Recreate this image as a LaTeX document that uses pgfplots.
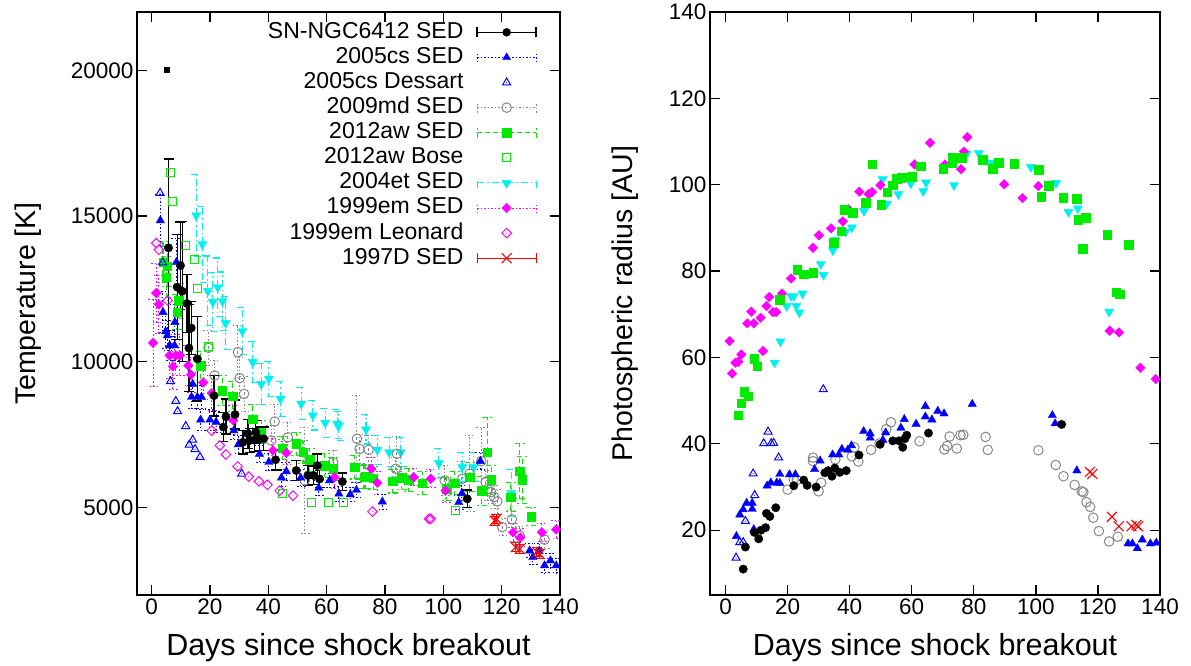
\documentclass[border=0pt]{standalone}
\usepackage{fontspec}
\setmainfont{Liberation Sans}
\usepackage{pgfplots}
\pgfplotsset{compat=1.18}
\definecolor{cgray}{RGB}{135,135,135}
\definecolor{cgreen}{RGB}{0,235,0}
\definecolor{cblue}{RGB}{0,0,255}
\definecolor{ccyan}{RGB}{0,240,240}
\definecolor{cmag}{RGB}{255,0,255}
\definecolor{cred}{RGB}{255,0,0}

\pgfdeclareplotmark{odot}{%
  \pgfpathcircle{\pgfpointorigin}{\pgfplotmarksize}\pgfusepathqstroke
  \pgfpathcircle{\pgfpointorigin}{0.5pt}\pgfusepathqfill}
\pgfdeclareplotmark{sqdot}{%
  \pgfpathmoveto{\pgfqpoint{-\pgfplotmarksize}{-\pgfplotmarksize}}%
  \pgfpathlineto{\pgfqpoint{\pgfplotmarksize}{-\pgfplotmarksize}}%
  \pgfpathlineto{\pgfqpoint{\pgfplotmarksize}{\pgfplotmarksize}}%
  \pgfpathlineto{\pgfqpoint{-\pgfplotmarksize}{\pgfplotmarksize}}%
  \pgfpathclose\pgfusepathqstroke
  \pgfpathcircle{\pgfpointorigin}{0.5pt}\pgfusepathqfill}
\pgfdeclareplotmark{tridot}{%
  \pgfpathmoveto{\pgfqpointpolar{90}{1.1\pgfplotmarksize}}%
  \pgfpathlineto{\pgfqpointpolar{210}{1.1\pgfplotmarksize}}%
  \pgfpathlineto{\pgfqpointpolar{-30}{1.1\pgfplotmarksize}}%
  \pgfpathclose\pgfusepathqstroke
  \pgfpathcircle{\pgfpointorigin}{0.6pt}\pgfusepathqfill}
\pgfdeclareplotmark{dtri*}{%
  \pgfpathmoveto{\pgfqpointpolar{-90}{1.1\pgfplotmarksize}}%
  \pgfpathlineto{\pgfqpointpolar{30}{1.1\pgfplotmarksize}}%
  \pgfpathlineto{\pgfqpointpolar{150}{1.1\pgfplotmarksize}}%
  \pgfpathclose\pgfusepathqfillstroke}
\pgfdeclareplotmark{dmd*}{%
  \pgfpathmoveto{\pgfqpoint{0pt}{\pgfplotmarksize}}%
  \pgfpathlineto{\pgfqpoint{\pgfplotmarksize}{0pt}}%
  \pgfpathlineto{\pgfqpoint{0pt}{-\pgfplotmarksize}}%
  \pgfpathlineto{\pgfqpoint{-\pgfplotmarksize}{0pt}}%
  \pgfpathclose\pgfusepathqfillstroke}
\pgfdeclareplotmark{dmdot}{%
  \pgfpathmoveto{\pgfqpoint{0pt}{\pgfplotmarksize}}%
  \pgfpathlineto{\pgfqpoint{\pgfplotmarksize}{0pt}}%
  \pgfpathlineto{\pgfqpoint{0pt}{-\pgfplotmarksize}}%
  \pgfpathlineto{\pgfqpoint{-\pgfplotmarksize}{0pt}}%
  \pgfpathclose\pgfusepathqstroke
  \pgfpathcircle{\pgfpointorigin}{0.5pt}\pgfusepathqfill}

\pgfplotsset{
  every axis/.append style={scale only axis,
    axis line style={line width=1.3pt},
    tick style={line width=1.3pt, black},
    tick align=inside, major tick length=10pt,
    ticklabel style={font=\fontsize{22.5}{22.5}\selectfont},
    xlabel style={font=\fontsize{30.5}{30.5}\selectfont},
    ylabel style={font=\fontsize{28.5}{28.5}\selectfont},
    scaled ticks=false,
    /pgf/number format/assume math mode=true,
    /pgf/number format/1000 sep={},
  },
  sBlack/.style={only marks, mark=*, mark size=4.2pt, black},
  sBlue/.style={only marks, mark=triangle*, mark size=4.8pt, cblue},
  sDes/.style={only marks, mark=tridot, mark size=4.2pt, cblue, mark options={line width=1pt}},
  sGray/.style={only marks, mark=odot, mark size=4.8pt, cgray, mark options={line width=1pt}},
  sGreen/.style={only marks, mark=square*, mark size=4.2pt, cgreen},
  sBose/.style={only marks, mark=sqdot, mark size=4pt, cgreen, mark options={line width=1pt}},
  sCyan/.style={only marks, mark=dtri*, mark size=4.8pt, ccyan},
  sMag/.style={only marks, mark=dmd*, mark size=4.8pt, cmag},
  sLeo/.style={only marks, mark=dmdot, mark size=4.8pt, cmag, mark options={line width=1pt}},
  sRed/.style={only marks, mark=x, mark size=7pt, cred, mark options={line width=1.1pt}},
  ebar/.style={error bars/.cd, y dir=both, y explicit,
     error bar style={#1}, error mark options={rotate=90, mark size=5pt, #1}},
}

\begin{document}
\begin{tikzpicture}
\useasboundingbox (0pt,0pt) rectangle (1191pt,666pt);
% ================= LEFT PANEL =================
\begin{axis}[at={(137pt,71pt)}, anchor=south west, width=423pt, height=583pt,
  xmin=-5, xmax=140, ymin=2000, ymax=22000,
  xtick={0,20,...,140}, ytick={5000,10000,15000,20000},
  xlabel={Days since shock breakout}, ylabel={Temperature [K]},
  xlabel style={at={(axis description cs:0.5,-0.09)}, anchor=center},
  ylabel style={at={(axis description cs:-0.258,0.5)}, anchor=center},
  legend plot pos=right,
  legend cell align=right,
  legend style={at={(0.9456,0.987)}, anchor=north east, draw=none, fill=none,
     inner sep=0pt, font=\fontsize{23}{23}\selectfont, column sep=12pt, row sep=0pt,
     nodes={inner sep=1pt, text height=17.5pt, text depth=5.6pt}},
]
% 2004et SED
\addplot[sCyan, forget plot, ebar={ccyan, line width=1.1pt, dash pattern=on 7pt off 3pt on 1.5pt off 3pt}] table[y error index=2] {
15.3 15020 1400
17.4 14030 1300
19.3 12430 1200
21.0 12050 1000
22.7 12560 1000
24.3 12080 1000
25.4 11330 900
31.1 11050 800
34.7 9990 700
37.6 9240 700
40.2 9420 600
44.2 8730 600
51.3 8560 550
55.3 8160 500
59.5 7910 500
63.6 7870 500
64.2 7810 500
73.5 7680 500
77.4 6980 500
81.4 6900 500
85.4 6900 500
98.5 6520 500
106.5 6380 500
110.4 6380 500
123.3 5490 800
};
% 2009md SED
\addplot[sGray, forget plot, ebar={cgray, line width=1pt, dash pattern=on 1.5pt off 2pt}] table[y error index=2] {
19.5 10480 600
21.6 9530 500
29.6 10330 900
30.2 9440 700
31.7 8900 600
41.0 7300 500
42.2 7950 600
46.7 7410 500
52.5 5930 1830
62.2 6560 400
70.4 7360 1500
71.3 7010 500
74.4 6980 500
83.7 6330 400
84.1 6840 600
100.5 5930 500
106.4 5980 600
109.0 6160 1300
113.0 6590 1170
114.5 5870 400
115.3 5640 400
116.4 5530 400
117.4 5360 400
118.5 5210 400
120.2 4330 300
123.5 4600 300
126.2 4040 300
134.7 3900 300
};
% 2012aw SED
\addplot[sGreen, forget plot, ebar={cgreen, line width=1.1pt, dash pattern=on 5pt off 3pt}] table[y error index=2] {
3.9 13420 700
5.0 12905 700
5.4 13270 700
8.7 11700 600
9.3 12100 600
16.8 9860 500
24.3 9015 500
27.8 8810 500
34.7 8040 500
37.6 7590 400
44.8 7040 400
49.6 7185 400
51.9 6900 400
54.2 6640 400
59.3 6440 400
62.2 6330 400
69.6 6380 400
72.8 6040 400
73.4 6060 400
76.0 6010 400
82.7 5900 400
85.8 6020 400
88.2 5950 400
92.8 5835 400
101.2 5640 400
103.9 5835 400
109.0 6040 500
113.1 5580 500
115.1 6900 1200
116.4 5950 500
123.1 5355 500
126.2 6250 950
127.1 5950 800
130.2 4690 300
};
% 1999em SED
\addplot[sMag, forget plot, ebar={cmag, line width=1pt, dash pattern=on 1.5pt off 2pt}] table[y error index=2] {
0.5 10650 1500
1.6 12360 1000
2.5 11970 1000
6.2 10220 800
7.3 9840 800
8.3 10220 700
9.7 10220 700
12.6 9870 700
13.5 9560 600
17.7 9290 600
20.6 8920 600
28.0 7990 500
41.6 6960 400
46.2 6870 400
62.7 6040 400
75.3 6330 400
77.4 5850 400
89.9 6040 300
95.7 5990 300
100.8 5580 400
123.9 4150 300
126.4 3970 300
133.8 4150 300
138.7 4250 300
};
% 2005cs SED
\addplot[sBlue, forget plot, ebar={cblue, line width=1pt, dash pattern=on 1.5pt off 2pt}] table[y error index=2] {
3.0 14850 900
3.9 11700 700
4.8 11040 600
5.4 10900 500
6.2 10560 500
7.9 10560 500
8.0 11360 600
8.5 13420 800
14.1 9240 400
13.7 8790 400
15.7 8790 400
17.1 8790 400
16.8 8010 350
20.0 8010 350
22.1 7930 350
28.2 7640 300
29.7 7160 300
37.0 6840 300
40.2 6560 300
44.5 6020 300
46.2 6240 300
51.1 6020 300
57.3 5675 250
61.0 5930 250
64.2 5470 250
68.1 5450 250
70.2 5600 250
79.1 5200 250
105.3 5180 250
106.4 5490 250
112.7 6590 300
129.6 3520 250
130.7 3300 250
132.8 3500 250
134.7 3010 250
136.7 3180 250
138.7 3010 250
};
% 2005cs Dessart
\addplot[sDes, forget plot] table {
2.9 15790
3.8 13400
6.5 9330
8.3 8650
8.9 8300
11.7 7790
14.1 7320
12.9 7150
14.9 7000
16.6 6730
30.9 6160
};
% 2012aw Bose
\addplot[sBose, forget plot] table {
6.5 16510
7.3 15510
11.7 13990
14.7 13500
15.7 12505
19.5 10525
44.8 5490
54.7 5180
60.5 5180
65.8 5180
104.1 4900
};
% 1999em Leonard
\addplot[sLeo, forget plot] table {
1.6 14070
2.5 13840
5.5 12100
20.6 7640
23.4 7130
25.5 6820
29.5 6410
33.3 6060
36.8 5900
39.7 5780
43.9 5580
48.5 5410
75.7 4860
95.1 4610
95.7 4610
};
% 1997D SED
\addplot[sRed, forget plot, ebar={cred, line width=1pt}] table[y error index=2] {
117.6 4550 150
118.2 4610 150
124.8 3640 150
126.2 3580 150
132.1 3470 150
133.0 3410 150
};
% SN-NGC6412 SED
\addplot[sBlack, forget plot, ebar={black, line width=1.3pt}] table[y error index=2] {
5.8 13910 3050
8.8 12560 1800
9.9 13300 1500
10.5 12420 2400
12.1 12000 1000
12.8 10470 1500
13.6 11160 900
15.7 10100 1450
21.4 8840 700
24.6 7760 500
25.5 8120 600
28.6 8190 500
31.3 7240 400
33.0 7530 500
33.6 7300 400
35.3 7320 400
35.7 7590 400
37.0 7360 400
38.4 7360 400
42.5 6640 350
49.6 6270 350
53.6 6100 350
55.5 6100 300
56.8 6440 400
57.6 5980 300
65.4 5890 300
108.2 5300 300
};
\addplot[only marks, mark=square*, mark size=2.5pt, black, forget plot] coordinates {(5.1,20030)};
% ---------- legend ----------
\addlegendimage{legend image code/.code={
  \path[draw=none, fill=none] (0pt,-6pt) rectangle (59pt,6pt);
  \draw[black, line width=1.3pt] (0pt,0pt)--(59pt,0pt) (0pt,-5pt)--(0pt,5pt) (59pt,-5pt)--(59pt,5pt);
  \draw[black, mark=*, mark size=4pt] plot coordinates {(29.5pt,0pt)};}}
\addlegendentry{SN-NGC6412 SED}
\addlegendimage{legend image code/.code={
  \path[draw=none, fill=none] (0pt,-6pt) rectangle (59pt,6pt);
  \draw[cblue, line width=1pt, dash pattern=on 1.5pt off 2pt] (0pt,0pt)--(59pt,0pt) (0pt,-5pt)--(0pt,5pt) (59pt,-5pt)--(59pt,5pt);
  \draw[cblue, fill=cblue, mark=triangle*, mark size=4.6pt] plot coordinates {(29.5pt,0pt)};}}
\addlegendentry{2005cs SED}
\addlegendimage{legend image code/.code={
  \path[draw=none, fill=none] (0pt,-6pt) rectangle (59pt,6pt);
  \draw[cblue, mark=tridot, mark size=4.2pt, mark options={line width=1pt}] plot coordinates {(29.5pt,0pt)};}}
\addlegendentry{2005cs Dessart}
\addlegendimage{legend image code/.code={
  \path[draw=none, fill=none] (0pt,-6pt) rectangle (59pt,6pt);
  \draw[cgray, line width=1pt, dash pattern=on 1.5pt off 2pt] (0pt,0pt)--(59pt,0pt) (0pt,-5pt)--(0pt,5pt) (59pt,-5pt)--(59pt,5pt);
  \draw[cgray, fill=white, mark=odot, mark size=4.8pt, mark options={line width=1pt}] plot coordinates {(29.5pt,0pt)};}}
\addlegendentry{2009md SED}
\addlegendimage{legend image code/.code={
  \path[draw=none, fill=none] (0pt,-6pt) rectangle (59pt,6pt);
  \draw[cgreen, line width=1.1pt, dash pattern=on 5pt off 3pt] (0pt,0pt)--(59pt,0pt) (0pt,-5pt)--(0pt,5pt) (59pt,-5pt)--(59pt,5pt);
  \draw[cgreen, fill=cgreen, mark=square*, mark size=4.2pt] plot coordinates {(29.5pt,0pt)};}}
\addlegendentry{2012aw SED}
\addlegendimage{legend image code/.code={
  \path[draw=none, fill=none] (0pt,-6pt) rectangle (59pt,6pt);
  \draw[cgreen, mark=sqdot, mark size=4pt, mark options={line width=1pt}] plot coordinates {(29.5pt,0pt)};}}
\addlegendentry{2012aw Bose}
\addlegendimage{legend image code/.code={
  \path[draw=none, fill=none] (0pt,-6pt) rectangle (59pt,6pt);
  \draw[ccyan, line width=1.1pt, dash pattern=on 7pt off 3pt on 1.5pt off 3pt] (0pt,0pt)--(59pt,0pt) (0pt,-5pt)--(0pt,5pt) (59pt,-5pt)--(59pt,5pt);
  \draw[ccyan, fill=ccyan, mark=dtri*, mark size=4.8pt] plot coordinates {(29.5pt,0pt)};}}
\addlegendentry{2004et SED}
\addlegendimage{legend image code/.code={
  \path[draw=none, fill=none] (0pt,-6pt) rectangle (59pt,6pt);
  \draw[cmag, line width=1pt, dash pattern=on 1.5pt off 2pt] (0pt,0pt)--(59pt,0pt) (0pt,-5pt)--(0pt,5pt) (59pt,-5pt)--(59pt,5pt);
  \draw[cmag, fill=cmag, mark=dmd*, mark size=4.8pt] plot coordinates {(29.5pt,0pt)};}}
\addlegendentry{1999em SED}
\addlegendimage{legend image code/.code={
  \path[draw=none, fill=none] (0pt,-6pt) rectangle (59pt,6pt);
  \draw[cmag, mark=dmdot, mark size=4.8pt, mark options={line width=1pt}] plot coordinates {(29.5pt,0pt)};}}
\addlegendentry{1999em Leonard}
\addlegendimage{legend image code/.code={
  \path[draw=none, fill=none] (0pt,-6pt) rectangle (59pt,6pt);
  \draw[cred, line width=1pt] (0pt,0pt)--(59pt,0pt) (0pt,-5pt)--(0pt,5pt) (59pt,-5pt)--(59pt,5pt);
  \draw[cred, mark=x, mark size=7pt, mark options={line width=1.1pt}] plot coordinates {(29.5pt,0pt)};}}
\addlegendentry{1997D SED}
\end{axis}

% ================= RIGHT PANEL =================
\begin{axis}[at={(710pt,71pt)}, anchor=south west, width=450pt, height=583pt,
  xmin=-5, xmax=140, ymin=5, ymax=140,
  xtick={0,20,...,140}, ytick={20,40,...,140},
  xlabel={Days since shock breakout}, ylabel={Photospheric radius [AU]},
  xlabel style={at={(axis description cs:0.5,-0.09)}, anchor=center},
  ylabel style={at={(axis description cs:-0.189,0.5)}, anchor=center},
]
% 2004et
\addplot[sCyan] table {
15.8 58.8
17.7 63.7
19.7 71.9
21.1 74.2
22.0 74.2
22.8 71.9
23.8 70.4
24.8 74.8
26.0 79.3
30.7 81.6
31.6 79.1
34.6 84.8
35.5 87.2
37.8 91.4
38.7 89.1
40.7 90.1
44.6 93.9
50.6 101.3
52.0 95.6
55.7 97.8
59.7 100.3
63.7 98.5
64.6 100.5
73.6 99.9
77.7 107.2
81.6 107.3
85.7 105.1
98.4 104.1
106.5 100.4
110.5 93.7
113.5 94.5
123.6 70.6
};
% 1999em
\addplot[sMag] table {
1.3 63.8
2.1 56.3
3.2 58.8
4.1 59.0
5.1 60.7
7.0 67.9
8.3 70.6
9.1 67.9
11.3 69.2
12.1 61.5
13.2 71.9
14.1 74.0
15.3 70.5
16.3 70.5
18.2 74.8
21.1 78.3
28.2 85.4
30.1 88.3
34.0 89.9
37.8 91.5
39.6 94.3
43.1 98.4
46.1 97.8
47.2 98.3
49.9 99.9
60.9 104.7
65.9 109.7
70.7 104.7
75.9 103.6
76.8 107.7
77.9 111.0
89.8 100.1
95.7 96.9
100.8 99.7
123.8 66.2
126.8 65.8
133.7 57.6
138.6 55.0
};
% 2012aw
\addplot[sGreen] table {
4.1 46.6
5.0 49.4
6.0 52.1
7.4 51.1
9.3 59.7
10.3 58.0
17.4 73.4
23.0 80.3
25.2 79.3
28.3 79.6
34.9 86.6
37.3 89.3
38.2 94.2
41.0 93.5
45.2 95.8
47.2 104.8
50.2 95.4
52.1 98.3
53.9 99.9
55.2 101.4
56.7 101.6
58.4 101.7
60.1 101.9
62.9 104.3
70.1 103.7
73.0 105.1
73.1 106.4
74.5 106.2
76.3 106.3
82.9 105.8
86.1 103.7
88.0 105.1
93.1 104.9
100.9 103.5
101.8 97.2
104.1 99.8
108.9 97.0
113.1 96.8
113.7 91.9
115.1 85.2
116.0 92.4
123.0 88.4
125.9 75.1
127.0 74.6
129.9 86.1
};
% 2009md
\addplot[sGray] table {
20.0 29.4
22.0 31.7
23.0 31.6
28.2 36.8
28.2 36.0
30.0 29.0
30.8 31.0
35.4 36.4
40.7 37.1
41.5 39.2
42.8 35.9
46.9 38.6
49.6 40.1
51.8 43.4
53.3 45.0
62.5 40.6
70.5 38.7
71.4 39.5
72.2 41.7
74.5 38.9
75.7 42.0
76.6 42.1
83.8 41.6
84.5 38.6
100.8 38.5
106.4 35.1
108.9 32.5
112.5 30.5
114.8 29.0
115.3 28.8
116.3 26.5
117.5 25.4
118.5 22.9
120.3 19.8
123.6 17.4
126.4 18.5
};
% 2005cs SED
\addplot[sBlue] table {
3.5 18.6
4.6 23.6
5.7 24.8
6.8 26.3
8.6 26.3
8.6 24.9
9.1 20.2
13.4 30.3
14.6 31.0
16.5 31.0
17.5 30.9
17.5 33.0
20.6 32.9
22.5 32.9
28.7 34.1
30.5 36.1
34.5 37.5
36.5 37.5
37.5 38.8
39.4 38.6
40.6 39.6
44.5 42.9
46.6 42.4
46.6 41.4
50.7 40.9
51.6 42.6
56.5 43.7
57.6 45.7
61.4 44.6
64.4 46.3
64.4 48.7
66.5 45.6
68.4 47.6
70.4 47.0
79.5 49.2
105.3 46.6
106.2 44.7
113.2 33.8
129.7 16.9
131.1 16.9
132.7 15.8
134.3 17.8
136.9 16.9
138.8 17.1
};
% 2005cs Dessart
\addplot[sDes] table {
3.4 13.6
4.6 17.2
5.7 17.2
6.4 22.1
8.9 33.1
9.4 28.1
12.3 40.1
13.7 42.8
14.7 40.1
15.5 40.2
17.1 36.8
31.5 52.6
};
% SN-NGC6412
\addplot[sBlack] table {
5.7 11.0
6.4 16.1
9.3 19.5
10.7 18.0
11.4 20.0
12.9 20.6
13.2 23.9
14.3 23.2
16.2 25.2
22.0 30.3
25.2 31.6
26.3 30.4
29.2 30.0
32.0 33.3
33.1 33.8
34.3 32.5
35.2 34.4
36.8 33.4
38.9 33.8
43.0 37.4
49.8 39.9
53.9 40.7
55.9 40.7
57.1 39.2
57.8 41.2
58.4 42.0
65.4 42.5
108.3 44.5
};
% 1997D
\addplot[sRed] table {
117.4 33.5
118.2 33.0
124.5 23.1
126.7 20.9
130.8 20.9
132.4 21.2
133.0 20.9
};
\end{axis}
\end{tikzpicture}
\end{document}
